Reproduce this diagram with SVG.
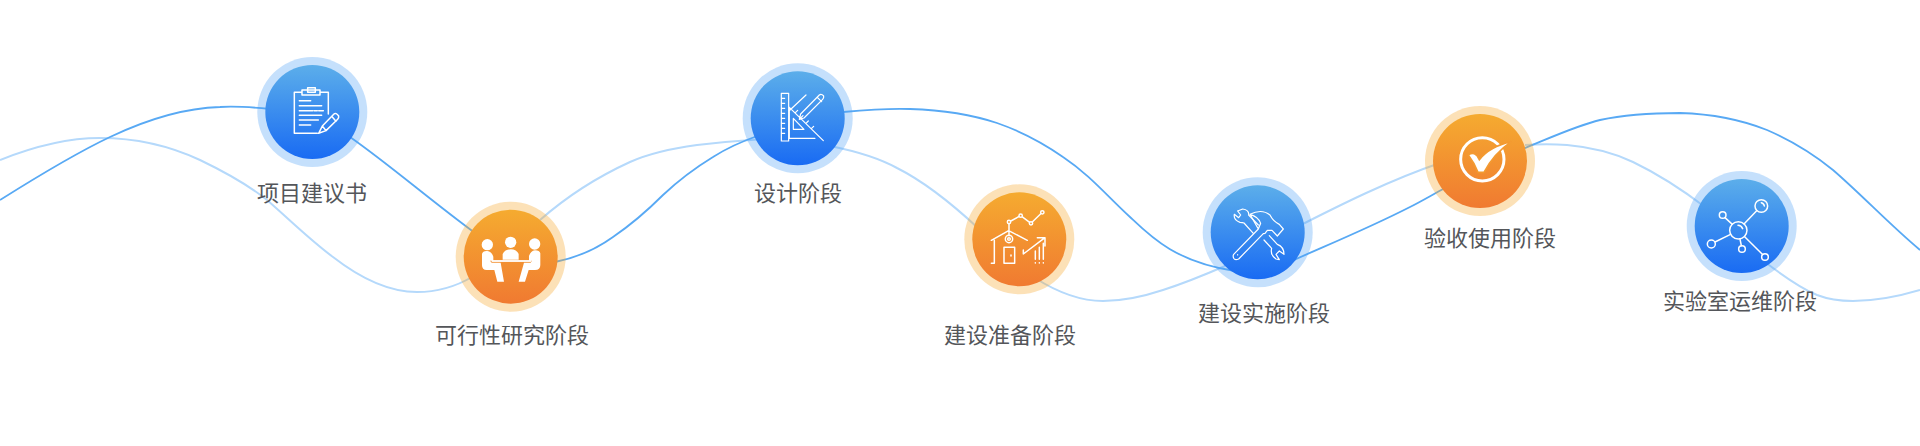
<svg xmlns="http://www.w3.org/2000/svg" width="1920" height="446" viewBox="0 0 1920 446">
<style>
.d{fill:none;stroke:#58a9f4;stroke-width:1.8}
.l{fill:none;stroke:#b5d9fb;stroke-width:2}
.rb{fill:#50a0f5;fill-opacity:.33}.ro{fill:#f5aa32;fill-opacity:.35}
.ib{fill:url(#gb)}.io{fill:url(#go)}
.s{fill:none;stroke:#fff;stroke-width:4.5;stroke-linecap:round;stroke-linejoin:round}
.t{stroke-width:3.6}
.w{fill:#fff}
text{font-family:"Noto Sans CJK SC","Noto Sans",sans-serif;font-size:22px;fill:#54565a;text-anchor:middle}
</style>
<defs>
<linearGradient id="gb" x1="0" y1="0" x2="0" y2="1"><stop offset="0" stop-color="#5caeea"/><stop offset="1" stop-color="#196bf3"/></linearGradient>
<linearGradient id="go" x1="0" y1="0" x2="0" y2="1"><stop offset="0" stop-color="#f5ab30"/><stop offset="1" stop-color="#f07a31"/></linearGradient>
</defs>
<rect width="1920" height="446" fill="#fff"/>
<g id="connectors">
<path class="l" d="M0 160C30 148 65 138 100 138C135 138 170 146 200 160C225 172 247 184 267 200C290 220 310 240 333 257C360 278 390 292 417 292C437 292 455 287 472 277"/>
<path class="l" d="M540 220C565 198 595 178 630 162C650 153 675 148 697 145C715 143 735 141 765 139"/>
<path class="l" d="M830 146C855 151 877 157 897 168C925 182 950 202 978 228"/>
<path class="l" d="M1035 278C1057 292 1080 301 1103 301C1125 301 1145 296 1163 290C1185 283 1202 276 1225 266"/>
<path class="l" d="M1295 228C1340 205 1390 180 1440 163"/>
<path class="l" d="M1525 145C1540 144 1553 144 1567 145C1590 147 1612 152 1633 162C1660 175 1680 188 1705 207"/>
<path class="l" d="M1765 262C1782 275 1800 288 1817 295C1830 300 1842 301 1853 301C1878 301 1900 296 1920 290"/>
<path class="d" d="M0 200C35 178 72 155 110 137C150 118 185 108 220 107C235 106 250 107 270 109"/>
<path class="d" d="M350 137C390 165 430 200 475 233"/>
<path class="d" d="M555 262C575 258 595 250 613 237C632 224 648 210 663 195C680 179 695 168 713 157C727 148 740 142 760 135"/>
<path class="d" d="M843 112C865 110 888 108 910 109C940 110 970 114 997 123C1020 131 1043 143 1063 157C1090 175 1108 197 1130 217C1150 236 1175 262 1235 271"/>
<path class="d" d="M1285 264C1320 248 1365 230 1410 207C1420 202 1432 195 1445 188"/>
<path class="d" d="M1520 150C1548 139 1575 126 1600 120C1625 114.500 1655 113 1680 113C1712 114 1742 120 1767 130C1790 140 1812 153 1833 170C1862 195 1890 225 1920 250"/>
</g>
<g id="node1"><circle class="rb" cx="312.300" cy="112" r="55"/><circle class="ib" cx="312.300" cy="112" r="47"/>
<g transform="translate(240 40) scale(.3333)"><path class="s" d="M186 157H163V280H232M240 157H265V222M186 150H240V165H186ZM203 143H226V157H203ZM178 182H212M178 197H245M222 212H232M178 212H218M236 212H250M178 226H245M178 240H235M178 255H212M236 280L247 258L282 222Q288 217 296 228Q297 234 293 238L258 272ZM247 258L258 272M275 229L288 244"/></g>
<text x="312" y="201">项目建议书</text></g>
<g id="node2"><circle class="ro" cx="510.700" cy="256.700" r="55"/><circle class="io" cx="510.700" cy="256.700" r="47"/>
<g transform="translate(440 190) scale(.3333)"><circle class="w" cx="142" cy="164" r="17"/><circle class="w" cx="212" cy="157" r="17"/><circle class="w" cx="284" cy="162" r="17"/>
<path class="w" d="M126 192Q128 182 142 183Q155 185 160 200V212H150L155 218H182L192 275H172L163 240H140Q126 240 126 225Z"/>
<path class="w" d="M301 190Q299 181 285 181Q272 183 267 198V212H276L272 218H252L236 275H255L266 240H285Q301 240 301 225Z"/>
<path class="w" d="M188 192Q195 178 212 178Q230 178 236 192V209H188Z"/><path class="w" d="M155 210H274V216H155Z" opacity=".9"/></g>
<text x="512" y="343">可行性研究阶段</text></g>
<g id="node3"><circle class="rb" cx="797.700" cy="118.300" r="55"/><circle class="ib" cx="797.700" cy="118.300" r="47"/>
<g transform="translate(730 50) scale(.3333)"><path class="s t" d="M154 130H176V273H154ZM154 145H164M154 160H164M154 175H164M154 190H164M154 205H164M154 220H164M154 235H164M154 250H164M176 265H255M178 172L280 272M178 172V265M190 205V238H222ZM228 135L180 180M212 192L268 135Q274 130 281 138Q282 144 278 148L222 204L208 208ZM262 142L275 155M196 188L203 181M212 204L219 197M228 220L235 213M244 236L251 229"/></g>
<text x="798" y="201">设计阶段</text></g>
<g id="node4"><circle class="ro" cx="1019.300" cy="239.300" r="55"/><circle class="io" cx="1019.300" cy="239.300" r="47"/>
<g transform="translate(950 170) scale(.3333)"><path class="s" d="M177 156L212 137L243 160L277 127M177 156V197M124 211L176 182L232 211M133 211V280H124M162 232H194V280H162ZM183 255V258M220 240V252L282 205M262 203H285V228M256 243V268M268 232V268M280 220V268M256 278V279M268 278V279M280 278V279"/>
<circle class="s" style="fill:#f39a33" cx="177" cy="156" r="5"/><circle class="s" style="fill:#f39a33" cx="212" cy="137" r="5"/><circle class="s" style="fill:#f39a33" cx="243" cy="160" r="5"/><circle class="s" style="fill:#f39a33" cx="277" cy="127" r="5"/><circle class="s" cx="177" cy="207" r="11"/><circle class="s" cx="177" cy="207" r="4"/></g>
<text x="1010" y="343">建设准备阶段</text></g>
<g id="node5"><circle class="rb" cx="1257.700" cy="232.300" r="55"/><circle class="ib" cx="1257.700" cy="232.300" r="47"/>
<g transform="translate(1190 165) scale(.3333)"><path class="s t" d="M143 138L152 150L146 158L133 148Q130 165 150 172Q158 172 162 174L190 205M176 150Q178 135 158 132L143 138M176 150L205 180M222 225L245 250Q240 270 258 282L268 284L258 268L268 258L282 268Q282 245 262 238L238 212"/>
<path class="s t" d="M205 192L131 268Q128 272 131 280Q135 287 146 282L220 206M180 148Q215 130 240 150Q250 170 268 178L280 192L262 213L246 196H232L225 205L220 206M205 192L212 175Q205 155 180 148ZM143 269V270"/></g>
<text x="1264" y="321">建设实施阶段</text></g>
<g id="node6"><circle class="ro" cx="1480" cy="161" r="55"/><circle class="io" cx="1480" cy="161" r="47"/>
<g transform="translate(1410 95) scale(.3333)"><circle cx="217" cy="193" r="65" fill="none" stroke="#fff" stroke-width="9"/>
<path fill="#fff" stroke="#f39a30" stroke-width="5" d="M175 180Q195 166 208 194Q238 155 304 140Q252 175 222 232H204Q194 205 175 180Z"/></g>
<text x="1490" y="246">验收使用阶段</text></g>
<g id="node7"><circle class="rb" cx="1741.700" cy="226" r="55"/><circle class="ib" cx="1741.700" cy="226" r="47"/>
<g transform="translate(1670 160) scale(.3333)"><path class="s" d="M222 192L260 152M165 173L187 193M135 246L180 224M210 237L214 257M224 230L277 283M204 196Q214 196 218 206M274 128Q282 130 283 138"/><circle class="s" cx="205" cy="211" r="26"/><circle class="s" cx="274" cy="138" r="19"/><circle class="s" cx="158" cy="165" r="10"/><circle class="s" cx="124" cy="252" r="12"/><circle class="s" cx="216" cy="267" r="10"/><circle class="s" cx="285" cy="291" r="10"/></g>
<text x="1740" y="309">实验室运维阶段</text></g>
</svg>
